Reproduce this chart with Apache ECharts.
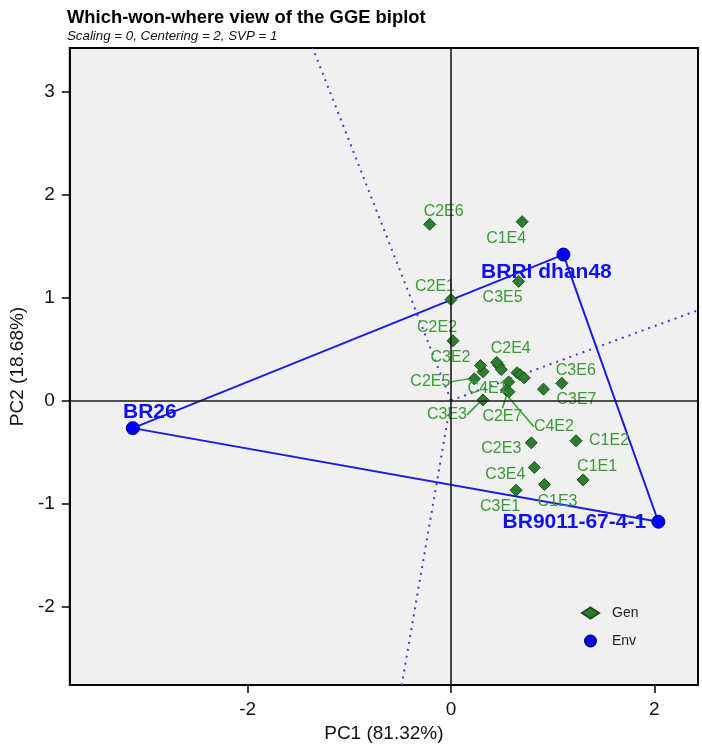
<!DOCTYPE html>
<html><head><meta charset="utf-8">
<script src="https://cdn.jsdelivr.net/npm/echarts@6/dist/echarts.min.js"></script>
<style>html,body{margin:0;padding:0;background:#fff}#c{width:702px;height:748px}</style>
</head><body><div id="c"></div>
<script>
// ---- data ----
const genNames = ['C1E5','C1E6','C1E7','C4E3','C4E4','C4E5',
  'C2E6','C1E4','C3E5','C2E1','C2E2','C3E2','C2E4','C2E5','C4E1','C2E7','C4E2',
  'C3E7','C3E6','C3E3','C2E3','C1E2','C3E4','C1E3','C1E1','C3E1'];
const genPC1 = [0.315, 0.47, 0.495, 0.65, 0.68, 0.72,
  -0.21, 0.70, 0.665, 0.00, 0.02, 0.29, 0.45, 0.23, 0.567, 0.545, 0.57,
  0.91, 1.09, 0.315, 0.79, 1.23, 0.82, 0.92, 1.30, 0.64];
const genPC2 = [0.28, 0.34, 0.30, 0.27, 0.25, 0.22,
  1.71, 1.735, 1.156, 0.98, 0.58, 0.34, 0.37, 0.21, 0.18, 0.10, 0.085,
  0.11, 0.167, 0.006, -0.41, -0.39, -0.65, -0.815, -0.77, -0.87];
const envNames = ['BR26', 'BRRI dhan48', 'BR9011-67-4-1'];
const envPC1 = [-3.13, 1.106, 2.04];
const envPC2 = [-0.268, 1.416, -1.176];
const xTicks = [-2, 0, 2];
const yTicks = [-2, -1, 0, 1, 2, 3];
const xRange = [-3.75, 2.43];
const yRange = [-2.76, 3.42];

// ---- label placement (pixel offsets, styling only) ----
const genLabelOffset = {
  'C2E6':[14,-13],'C1E4':[-16,17],'C3E5':[-16,16],'C2E1':[-16,-13],'C2E2':[-16,-13],
  'C3E2':[-30,-8],'C2E4':[14,-14],'C2E5':[-44,3],'C4E1':[-21,7],'C2E7':[-4,26],
  'C4E2':[45,35],'C3E7':[33,10],'C3E6':[14,-13],'C3E3':[-36,15],'C2E3':[-30,6],
  'C1E2':[33,0],'C3E4':[-29,7],'C1E3':[13,17],'C1E1':[14,-13],'C3E1':[-16,16]
};
const genLeader = ['C2E5','C2E7','C4E2','C3E3'];
const envLabelOffset = [[17,-16],[-17,18],[-84,0]];

const genData = genNames.map((n, i) => ({
  name: n, value: [genPC1[i], genPC2[i]],
  label: { show: !!genLabelOffset[n] },
  labelLine: { show: genLeader.indexOf(n) >= 0 }
}));
const envData = envNames.map((n, i) => ({ name: n, value: [envPC1[i], envPC2[i]] }));
const hull = envNames.map((n, i) => [envPC1[i], envPC2[i]]);
hull.push([envPC1[0], envPC2[0]]);

// perpendicular rays from origin to each polygon side
function rayEnd(nx, ny) {
  let t = Infinity;
  if (nx > 0) t = Math.min(t, xRange[1] / nx);
  if (nx < 0) t = Math.min(t, xRange[0] / nx);
  if (ny > 0) t = Math.min(t, yRange[1] / ny);
  if (ny < 0) t = Math.min(t, yRange[0] / ny);
  return [nx * t, ny * t];
}
const rays = [];
for (let i = 0; i < envNames.length; i++) {
  const j = (i + 1) % envNames.length;
  const dx = envPC1[j] - envPC1[i], dy = envPC2[j] - envPC2[i];
  let nx = -dy, ny = dx;
  if (nx * envPC1[i] + ny * envPC2[i] < 0) { nx = -nx; ny = -ny; }
  rays.push([[0, 0], rayEnd(nx, ny)]);
}

const FF = 'Liberation Sans, Arial, sans-serif';
const axisFont = { fontFamily: FF, fontSize: 19, color: '#111' };
const chart = echarts.init(document.getElementById('c'));
const series = [];
rays.forEach((r) => series.push({
  type: 'line', data: r, symbol: 'none', silent: true, z: 1,
  lineStyle: { color: '#3d3de0', width: 2, type: [2, 5] }
}));
series.push({
  type: 'line', data: hull, symbol: 'none', silent: true, z: 2,
  lineStyle: { color: '#1a1ae6', width: 2 },
  markLine: {
    silent: true, symbol: 'none', label: { show: false },
    lineStyle: { color: '#1a1a1a', width: 1.6, type: 'solid' },
    data: [{ xAxis: 0 }, { yAxis: 0 }]
  }
});
series.push({
  name: 'Gen', type: 'scatter', data: genData, symbol: 'diamond', symbolSize: 12, z: 4,
  itemStyle: { color: '#2e7d2e', borderColor: '#1b4f1b', borderWidth: 1, opacity: 1 },
  label: { position: 'inside', formatter: '{b}', color: '#3a9a35', fontFamily: FF, fontSize: 16 },
  labelLine: { lineStyle: { color: '#3a9a35', width: 1.5 }, smooth: false, length2: 0 },
  labelLayout: function (p) {
    const o = genLabelOffset[genNames[p.dataIndex]] || [0, 0];
    return { dx: o[0], dy: o[1] };
  }
});
series.push({
  name: 'Env', type: 'scatter', data: envData, symbol: 'circle', symbolSize: 13, z: 5,
  itemStyle: { color: '#0000ff', borderColor: '#00008b', borderWidth: 1, opacity: 1 },
  label: { show: true, position: 'inside', formatter: '{b}', color: '#1010f0', fontWeight: 'bold',
    fontFamily: FF, fontSize: 21 },
  labelLayout: function (p) {
    const o = envLabelOffset[p.dataIndex];
    return { dx: o[0], dy: o[1] };
  }
});

chart.setOption({
  animation: false,
  title: {
    text: 'Which-won-where view of the GGE biplot',
    subtext: 'Scaling = 0, Centering = 2, SVP = 1',
    left: 62, top: 4, itemGap: 3,
    textStyle: { fontFamily: FF, fontSize: 18.4, fontWeight: 'bold', color: '#000' },
    subtextStyle: { fontFamily: FF, fontSize: 13.3, fontStyle: 'italic', color: '#111' }
  },
  legend: {
    data: [{ name: 'Gen', icon: 'diamond' }, { name: 'Env', icon: 'circle' }],
    orient: 'vertical', left: 576, top: 601, itemGap: 14, itemWidth: 17, itemHeight: 11,
    textStyle: { fontFamily: FF, fontSize: 14, color: '#222', padding: [0, 0, 0, 8] }
  },
  grid: { left: 68, right: 4, top: 48, bottom: 60, show: true, backgroundColor: '#f0f0f0',
    borderColor: '#000', borderWidth: 2 },
  xAxis: {
    type: 'value', min: xRange[0], max: xRange[1],
    name: 'PC1 (81.32%)', nameLocation: 'middle', nameGap: 39,
    nameTextStyle: axisFont,
    axisLine: { show: true, onZero: false, lineStyle: { color: '#000', width: 2 } },
    axisTick: { show: true, customValues: xTicks, length: 8, lineStyle: { color: '#000', width: 1.5 } },
    axisLabel: { customValues: xTicks, margin: 15, ...axisFont },
    splitLine: { show: false }
  },
  yAxis: {
    type: 'value', min: yRange[0], max: yRange[1],
    name: 'PC2 (18.68%)', nameLocation: 'middle', nameGap: 37,
    nameTextStyle: axisFont,
    axisLine: { show: true, onZero: false, lineStyle: { color: '#000', width: 2 } },
    axisTick: { show: true, customValues: yTicks, length: 8, lineStyle: { color: '#000', width: 1.5 } },
    axisLabel: { customValues: yTicks, margin: 15, ...axisFont },
    splitLine: { show: false }
  },
  series: series
});
</script>
</body></html>
